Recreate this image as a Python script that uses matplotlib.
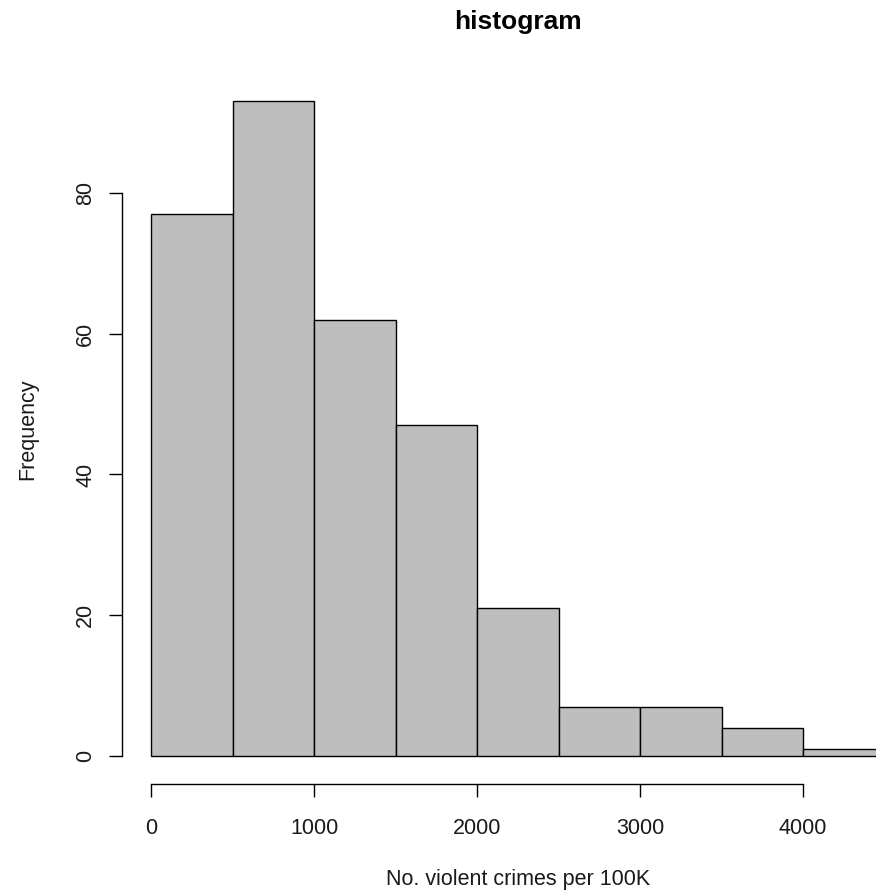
import matplotlib
matplotlib.use("Agg")
import matplotlib.pyplot as plt
import numpy as np

plt.rcParams['font.family'] = ['Liberation Sans', 'DejaVu Sans']

bin_edges = [0, 500, 1000, 1500, 2000, 2500, 3000, 3500, 4000, 4500]
counts = [77, 93, 62, 47, 21, 7, 7, 4, 1]
x_ticks = [0, 1000, 2000, 3000, 4000]
y_ticks = [0, 20, 40, 60, 80]

W, H = 876, 894
fig = plt.figure(figsize=(W / 100, H / 100), dpi=100)

# axes in pixel coordinates (R plot region)
left_px, right_px = 122, 914
bottom_px, top_px = 782.2, 75.3
ax = fig.add_axes([left_px / W, 1 - bottom_px / H,
                   (right_px - left_px) / W, (bottom_px - top_px) / H])

lefts = bin_edges[:-1]
widths = np.diff(bin_edges)
ax.bar(lefts, counts, width=widths, align='edge', color='#bebebe',
       edgecolor='black', linewidth=1.0)

ax.set_xlim(-180, 4680)
ax.set_ylim(-3.72, 96.72)

for s in ['top', 'right']:
    ax.spines[s].set_visible(False)
ax.spines['bottom'].set_bounds(0, 4000)
ax.spines['left'].set_bounds(0, 80)
ax.spines['bottom'].set_position(('outward', 1))
ax.spines['left'].set_linewidth(1.0)
ax.spines['bottom'].set_linewidth(1.0)

fs = 15.5
ax.set_xticks(x_ticks)
ax.set_yticks(y_ticks)
ax.set_xticklabels([str(v) for v in x_ticks], fontsize=fs, color='#1a1a1a')
ax.set_yticklabels([str(v) for v in y_ticks], fontsize=fs, rotation=90,
                   va='center', color='#1a1a1a')
ax.tick_params(axis='x', length=9.5, width=1.0, direction='out', pad=15)
ax.tick_params(axis='y', length=9.5, width=1.0, direction='out', pad=9)

ax.set_xlabel('No. violent crimes per 100K', fontsize=fs, labelpad=22, color='#1a1a1a')
ax.set_ylabel('Frequency', fontsize=fs, labelpad=27, color='#1a1a1a')
ax.set_title('histogram', fontsize=19, fontweight='bold', pad=33)

fig.savefig('out.png', dpi=100)
